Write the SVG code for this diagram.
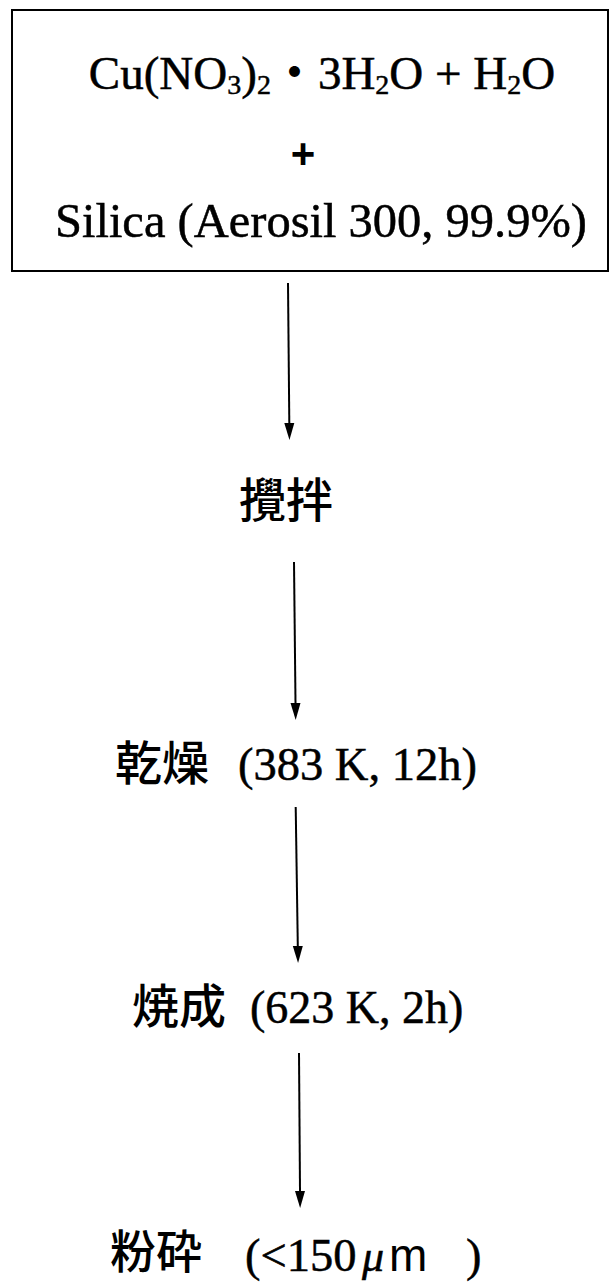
<svg xmlns="http://www.w3.org/2000/svg" width="609" height="1283" viewBox="0 0 609 1283">
<style>
  .tm { font-family: "Liberation Serif", "Times New Roman", serif; fill: #000; stroke: #000; stroke-width: 0.5; }
  .cjk { font-family: "Noto Sans CJK JP", "Noto Sans CJK TC", sans-serif; fill: #000; font-weight: 500; }
  .sans { font-family: "Liberation Sans", Arial, sans-serif; fill: #000; }
  .conn { stroke: #000; stroke-width: 2; fill: none; }
  .box { fill: #fff; stroke: #000; stroke-width: 2; }
</style>
<defs>
  <marker id="ah" markerUnits="userSpaceOnUse" markerWidth="20" markerHeight="12" viewBox="0 -6 18 12" refX="0" refY="0" orient="auto">
    <path d="M0,-5 L17,0 L0,5 z" fill="#000"/>
  </marker>
</defs>
<rect width="609" height="1283" fill="#fff"/>

<g id="start">
  <rect class="box" x="12" y="10" width="596" height="261"/>
  <text class="tm" x="322" y="89" font-size="47" text-anchor="middle">Cu(NO<tspan font-size="28" dy="5">3</tspan><tspan dy="-5">)</tspan><tspan font-size="28" dy="5">2</tspan><tspan dy="-5" class="cjk" font-weight="400" stroke="none">・</tspan><tspan>3H</tspan><tspan font-size="28" dy="5">2</tspan><tspan dy="-5">O + H</tspan><tspan font-size="28" dy="5">2</tspan><tspan dy="-5">O</tspan></text>
  <text class="sans" x="303" y="168" font-size="42" font-weight="bold" text-anchor="middle">+</text>
  <text class="tm" x="321" y="237" font-size="48.5" text-anchor="middle">Silica (Aerosil 300, 99.9%)</text>
</g>

<g id="stir">
  <text class="cjk" x="239" y="517" font-size="47">攪拌</text>
</g>

<g id="dry">
  <text class="cjk" x="115" y="780" font-size="47">乾燥</text>
  <text class="tm" x="238" y="780" font-size="46.5">(383 K, 12h)</text>
</g>

<g id="calcine">
  <text class="cjk" x="132" y="1023" font-size="47">焼成</text>
  <text class="tm" x="250" y="1023" font-size="46">(623 K, 2h)</text>
</g>

<g id="grind">
  <text class="cjk" x="110" y="1268" font-size="46">粉砕</text>
  <text class="tm" x="245" y="1271" font-size="46.5">(&lt;150</text>
  <text class="tm" x="362" y="1271" font-size="44" font-style="italic">μ</text>
  <text class="sans" x="389" y="1271" font-size="46">m</text>
  <text class="tm" x="466" y="1271" font-size="46.5">)</text>
</g>

<g id="connectors">
  <line class="conn" x1="288" y1="283" x2="289.3" y2="423" marker-end="url(#ah)"/>
  <line class="conn" x1="294" y1="562" x2="295.5" y2="703" marker-end="url(#ah)"/>
  <line class="conn" x1="295.7" y1="807" x2="297.8" y2="946" marker-end="url(#ah)"/>
  <line class="conn" x1="299" y1="1053" x2="300" y2="1191" marker-end="url(#ah)"/>
</g>
</svg>
